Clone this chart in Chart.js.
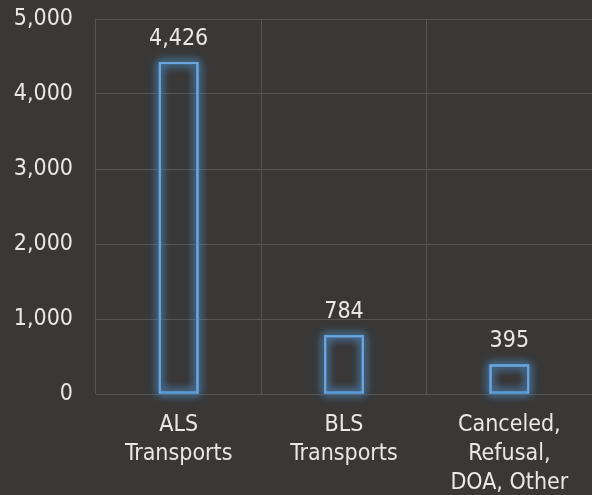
<!DOCTYPE html>
<html>
<head>
<meta charset="utf-8">
<script src="https://cdn.jsdelivr.net/npm/chart.js@4"></script>
<style>
  html, body { margin: 0; padding: 0; background: #3a3836; }
  #wrap { width: 592px; height: 495px; }
</style>
</head>
<body>
<div id="wrap"><canvas id="callChart"></canvas></div>
<script>
const categories = [["ALS", "Transports"], ["BLS", "Transports"], ["Canceled,", "Refusal,", "DOA, Other"]];
const callCounts = [4426, 784, 395];
const yTicks = [0, 1000, 2000, 3000, 4000, 5000];

const FONT = "'DejaVu Sans Condensed', 'DejaVu Sans', sans-serif";
const TEXT = "#e8e8e8";

// soft blue glow behind the bar outlines (the bar element clips its own border)
const glowPlugin = {
  id: 'glow',
  beforeDatasetsDraw(chart) {
    const ctx = chart.ctx;
    const meta = chart.getDatasetMeta(0);
    ctx.save();
    ctx.strokeStyle = 'rgba(91, 155, 213, 0.9)';
    ctx.lineWidth = 2;
    ctx.shadowColor = 'rgba(80, 150, 215, 1)';
    ctx.shadowBlur = 10;
    meta.data.forEach(bar => {
      const w = bar.width;
      for (let k = 0; k < 3; k++) {
        ctx.strokeRect(bar.x - w / 2 + 1, bar.y + 1, w - 2, bar.base - bar.y - 2);
      }
    });
    ctx.restore();
  }
};

// value labels above each bar
const valueLabels = {
  id: 'valueLabels',
  afterDatasetsDraw(chart) {
    const ctx = chart.ctx;
    const meta = chart.getDatasetMeta(0);
    ctx.save();
    ctx.fillStyle = TEXT;
    ctx.font = "23px " + FONT;
    ctx.textAlign = 'center';
    ctx.textBaseline = 'alphabetic';
    meta.data.forEach((bar, i) => {
      ctx.fillText(callCounts[i].toLocaleString('en-US'), bar.x, bar.y - 17);
    });
    ctx.restore();
  }
};

new Chart(document.getElementById("callChart").getContext("2d"), {
  type: "bar",
  data: {
    labels: categories,
    datasets: [{
      data: callCounts,
      backgroundColor: 'rgba(0, 0, 0, 0)',
      borderColor: '#6aa6dd',
      borderWidth: 2,
      barPercentage: 0.24,
      categoryPercentage: 1.0
    }]
  },
  options: {
    responsive: true,
    maintainAspectRatio: false,
    animation: false,
    layout: { padding: 0 },
    scales: {
      x: {
        grid: { color: '#575553', lineWidth: 1, drawTicks: false },
        border: { display: false },
        ticks: { color: TEXT, font: { family: FONT, size: 23, lineHeight: 1.26 }, padding: 17, maxRotation: 0, autoSkip: false },
        afterFit(axis) { axis.height = 101; }
      },
      y: {
        min: 0,
        max: 5000,
        afterBuildTicks(axis) { axis.ticks = yTicks.map(v => ({ value: v })); },
        grid: { color: '#575553', lineWidth: 1, drawTicks: false },
        border: { display: false },
        ticks: {
          color: TEXT,
          font: { family: FONT, size: 23 },
          padding: 23,
          callback: v => v.toLocaleString('en-US')
        },
        afterFit(axis) {
          axis.width = 96;
          axis.paddingTop = 19;
          axis.paddingBottom = 0;
        }
      }
    },
    plugins: {
      legend: { display: false },
      tooltip: { enabled: false }
    }
  },
  plugins: [glowPlugin, valueLabels]
});
</script>
</body>
</html>
